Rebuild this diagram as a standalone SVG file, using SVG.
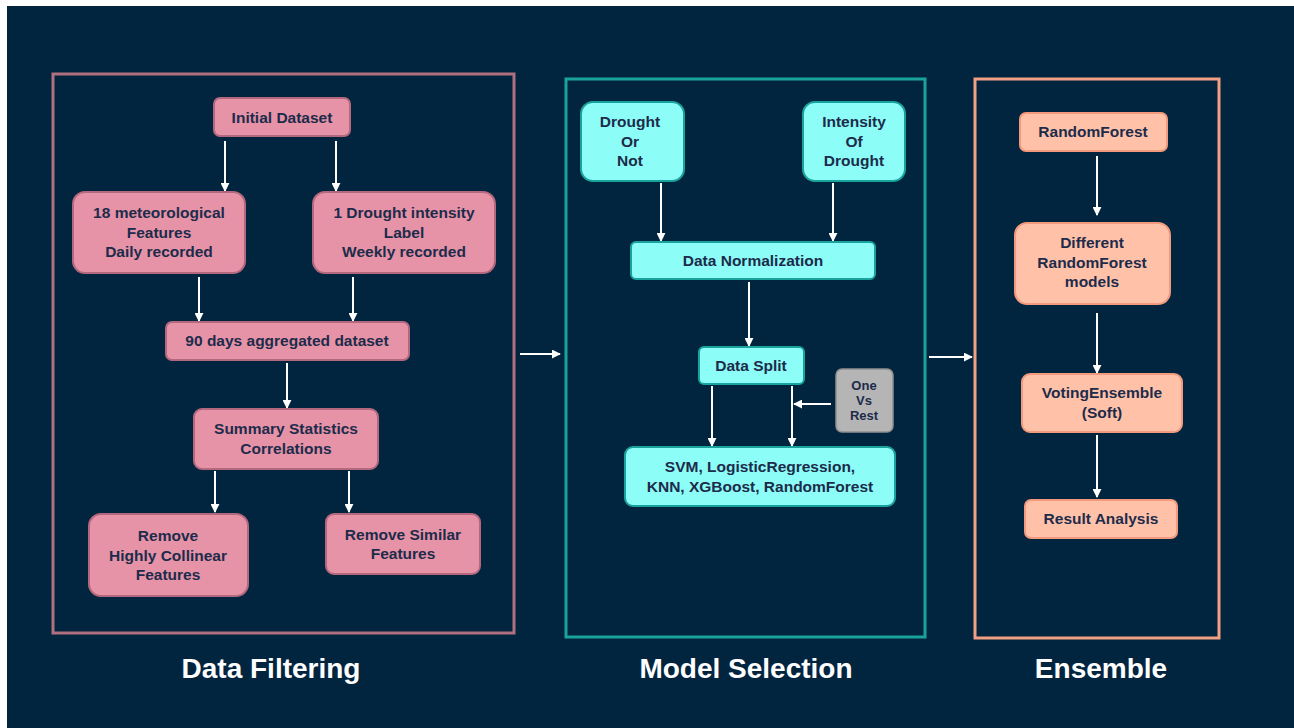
<svg xmlns="http://www.w3.org/2000/svg" width="1294" height="728" viewBox="0 0 1294 728">
<defs>
<style>
.bg{fill:#02253f}
.pnl{fill:none;stroke-width:3}
.pk{fill:#e693a7;stroke:#b3687e;stroke-width:2}
.tl{fill:#8cfdf7;stroke:#1aa39c;stroke-width:2}
.sa{fill:#ffc2a9;stroke:#f29a7b;stroke-width:2}
.gr{fill:#b5b5b5;stroke:#8f8f8f;stroke-width:1.5}
.t{font-family:"Liberation Sans",Arial,sans-serif;font-weight:bold;font-size:15.5px;fill:#1d2b4b;text-anchor:middle}
.ts{font-size:13px}
.ttl{font-family:"Liberation Sans",Arial,sans-serif;font-weight:bold;font-size:28px;fill:#ffffff;text-anchor:middle}
.ar{stroke:#ffffff;stroke-width:2;fill:none;marker-end:url(#ah)}
</style>
<marker id="ah" viewBox="0 0 10 10" refX="9" refY="5" markerWidth="4.5" markerHeight="4.5" orient="auto" markerUnits="strokeWidth">
<path d="M0,0 L10,5 L0,10 Z" fill="#ffffff"/>
</marker>
</defs>
<rect x="0" y="0" width="1294" height="728" fill="#ffffff"/>
<rect class="bg" x="7" y="6" width="1287" height="722"/>

<g id="panels">
<rect class="pnl" x="53" y="74" width="461" height="559" stroke="#b0707f"/>
<rect class="pnl" x="566" y="79" width="359" height="558" stroke="#1aa39c"/>
<rect class="pnl" x="975" y="79" width="244" height="559" stroke="#f2a083"/>
</g>

<g id="titles">
<text class="ttl" x="271" y="678">Data Filtering</text>
<text class="ttl" x="746" y="678">Model Selection</text>
<text class="ttl" x="1101" y="678">Ensemble</text>
</g>

<g id="connectors">
<line class="ar" x1="225" y1="141" x2="225" y2="191"/>
<line class="ar" x1="336" y1="141" x2="336" y2="191"/>
<line class="ar" x1="199" y1="277" x2="199" y2="321"/>
<line class="ar" x1="353" y1="277" x2="353" y2="321"/>
<line class="ar" x1="287" y1="363" x2="287" y2="408"/>
<line class="ar" x1="215" y1="471" x2="215" y2="512"/>
<line class="ar" x1="349" y1="471" x2="349" y2="512"/>
<line class="ar" x1="520" y1="354" x2="560" y2="354"/>
<line class="ar" x1="661" y1="183" x2="661" y2="241"/>
<line class="ar" x1="833" y1="183" x2="833" y2="241"/>
<line class="ar" x1="749" y1="282" x2="749" y2="346"/>
<line class="ar" x1="712" y1="386" x2="712" y2="446"/>
<line class="ar" x1="792" y1="386" x2="792" y2="446"/>
<line class="ar" x1="831" y1="404" x2="794" y2="404"/>
<line class="ar" x1="929" y1="357" x2="972" y2="357"/>
<line class="ar" x1="1097" y1="156" x2="1097" y2="215"/>
<line class="ar" x1="1097" y1="313" x2="1097" y2="373"/>
<line class="ar" x1="1097" y1="435" x2="1097" y2="497"/>
</g>

<g id="n-initial"><rect class="pk" x="214" y="98" width="136" height="38" rx="6"/><text class="t" x="282" y="123">Initial Dataset</text></g>
<g id="n-meteo"><rect class="pk" x="73" y="192" width="172" height="81" rx="12"/><text class="t" x="159" y="218">18 meteorological</text><text class="t" x="159" y="238">Features</text><text class="t" x="159" y="257">Daily recorded</text></g>
<g id="n-label"><rect class="pk" x="313" y="192" width="182" height="81" rx="12"/><text class="t" x="404" y="218">1 Drought intensity</text><text class="t" x="404" y="238">Label</text><text class="t" x="404" y="257">Weekly recorded</text></g>
<g id="n-agg"><rect class="pk" x="166" y="322" width="243" height="38" rx="6"/><text class="t" x="287" y="346">90 days aggregated dataset</text></g>
<g id="n-summary"><rect class="pk" x="194" y="409" width="184" height="60" rx="8"/><text class="t" x="286" y="434">Summary Statistics</text><text class="t" x="286" y="454">Correlations</text></g>
<g id="n-collinear"><rect class="pk" x="89" y="514" width="159" height="82" rx="12"/><text class="t" x="168" y="541">Remove</text><text class="t" x="168" y="561">Highly Collinear</text><text class="t" x="168" y="580">Features</text></g>
<g id="n-similar"><rect class="pk" x="326" y="514" width="154" height="60" rx="8"/><text class="t" x="403" y="540">Remove Similar</text><text class="t" x="403" y="559">Features</text></g>

<g id="n-droughtornot"><rect class="tl" x="581" y="102" width="103" height="79" rx="12"/><text class="t" x="630" y="127">Drought</text><text class="t" x="630" y="147">Or</text><text class="t" x="630" y="166">Not</text></g>
<g id="n-intensity"><rect class="tl" x="803" y="102" width="102" height="79" rx="12"/><text class="t" x="854" y="127">Intensity</text><text class="t" x="854" y="147">Of</text><text class="t" x="854" y="166">Drought</text></g>
<g id="n-norm"><rect class="tl" x="631" y="242" width="244" height="37" rx="5"/><text class="t" x="753" y="266">Data Normalization</text></g>
<g id="n-split"><rect class="tl" x="699" y="347" width="105" height="37" rx="5"/><text class="t" x="751" y="371">Data Split</text></g>
<g id="n-ovr"><rect class="gr" x="836" y="369" width="57" height="63" rx="6"/><text class="t ts" x="864" y="390">One</text><text class="t ts" x="864" y="405">Vs</text><text class="t ts" x="864" y="420">Rest</text></g>
<g id="n-models"><rect class="tl" x="625" y="447" width="270" height="59" rx="8"/><text class="t" x="760" y="472">SVM, LogisticRegression,</text><text class="t" x="760" y="492">KNN, XGBoost, RandomForest</text></g>

<g id="n-rf"><rect class="sa" x="1020" y="113" width="147" height="38" rx="6"/><text class="t" x="1093" y="137">RandomForest</text></g>
<g id="n-diff"><rect class="sa" x="1015" y="223" width="155" height="81" rx="12"/><text class="t" x="1092" y="248">Different</text><text class="t" x="1092" y="268">RandomForest</text><text class="t" x="1092" y="287">models</text></g>
<g id="n-vote"><rect class="sa" x="1022" y="374" width="160" height="58" rx="8"/><text class="t" x="1102" y="398">VotingEnsemble</text><text class="t" x="1102" y="418">(Soft)</text></g>
<g id="n-result"><rect class="sa" x="1025" y="500" width="152" height="38" rx="6"/><text class="t" x="1101" y="524">Result Analysis</text></g>
</svg>
